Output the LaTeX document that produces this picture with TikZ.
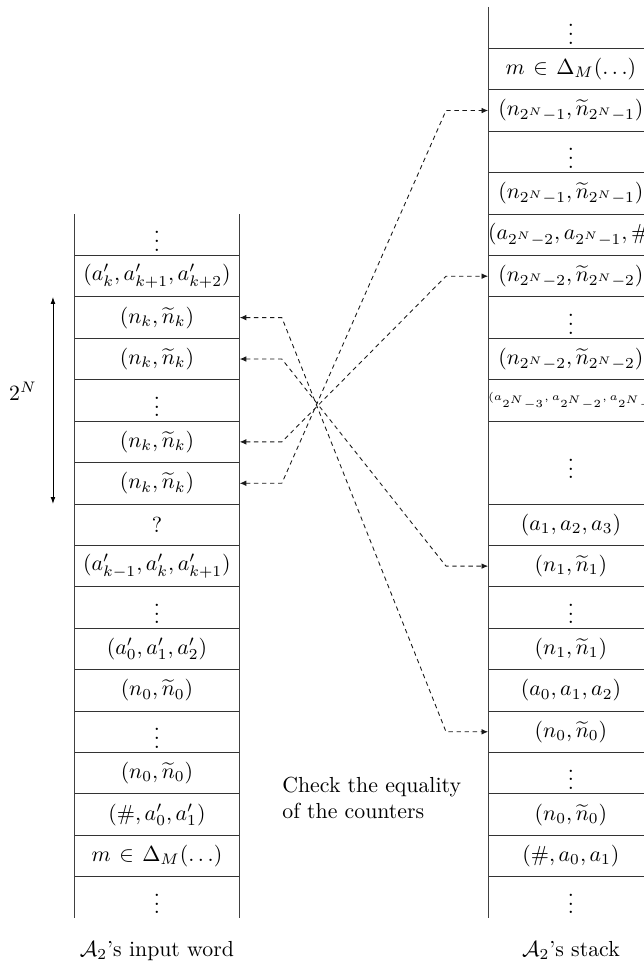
\documentclass[tikz,border=0pt]{standalone}
\usetikzlibrary{positioning}
\usetikzlibrary{arrows.meta}
\tikzset{
  % One square of a tape or stack: fixed size, text centred
  cell/.style={
    draw=black!80, rectangle, inner sep=0pt, outer sep=0pt,
    minimum width=76pt, minimum height=19pt, text width=76pt, align=center},
  % The open ends (only the side lines are drawn)
  opencell/.style={cell, draw=none},
  % Comparisons between counters
  link/.style={{Latex[length=3pt,width=2.6pt]}-{Latex[length=3pt,width=2.6pt]},
    draw=black!90, dash pattern=on 2pt off 1.7pt},
  span/.style={{Latex[length=3.2pt,width=2.2pt]}-{Latex[length=3.2pt,width=2.2pt]}, draw=black},
  side/.style={draw=black!75},
}

\begin{document}
\begin{tikzpicture}[node distance=0pt]

  \path[use as bounding box, clip] (0,0) rectangle (295.4pt,-443.6pt);

  % --- Input word --------------------------------------------------------
  \node[opencell, anchor=north] (l0) at (72pt,-98.2pt) {$\vdots$};
  \node[cell, below=of l0]  (l1)  {$(a'_k,a'_{k+1},a'_{k+2})$};
  \node[cell, below=of l1]  (l2)  {$(n_k,\widetilde{n}_k)$};
  \node[cell, below=of l2]  (l3)  {$(n_k,\widetilde{n}_k)$};
  \node[cell, below=of l3]  (l4)  {$\vdots$};
  \node[cell, below=of l4]  (l5)  {$(n_k,\widetilde{n}_k)$};
  \node[cell, below=of l5]  (l6)  {$(n_k,\widetilde{n}_k)$};
  \node[cell, below=of l6]  (l7)  {?};
  \node[cell, below=of l7]  (l8)  {$(a'_{k-1},a'_k,a'_{k+1})$};
  \node[cell, below=of l8]  (l9)  {$\vdots$};
  \node[cell, below=of l9]  (l10) {$(a'_0,a'_1,a'_2)$};
  \node[cell, below=of l10] (l11) {$(n_0,\widetilde{n}_0)$};
  \node[cell, below=of l11] (l12) {$\vdots$};
  \node[cell, below=of l12] (l13) {$(n_0,\widetilde{n}_0)$};
  \node[cell, below=of l13] (l14) {$(\#,a'_0,a'_1)$};
  \node[cell, below=of l14] (l15) {$m\in\Delta_M(\dots)$};
  \node[opencell, below=of l15] (l16) {$\vdots$};

  \draw[side] (l0.north west) -- (l16.south west);
  \draw[side] (l0.north east) -- (l16.south east);

  % --- Stack -------------------------------------------------------------
  \node[opencell, anchor=north] (r0) at (261.9pt,-3.2pt) {$\vdots$};
  \node[cell, below=of r0]  (r1)  {$m\in\Delta_M(\dots)$};
  \node[cell, below=of r1]  (r2)  {$(n_{2^N-1},\widetilde{n}_{2^N-1})$};
  \node[cell, below=of r2]  (r3)  {$\vdots$};
  \node[cell, below=of r3]  (r4)  {$(n_{2^N-1},\widetilde{n}_{2^N-1})$};
  \node[cell, below=of r4]  (r5)  {$(a_{2^N-2},a_{2^N-1},\#)$};
  \node[cell, below=of r5]  (r6)  {$(n_{2^N-2},\widetilde{n}_{2^N-2})$};
  \node[cell, below=of r6]  (r7)  {$\vdots$};
  \node[cell, below=of r7]  (r8)  {$(n_{2^N-2},\widetilde{n}_{2^N-2})$};
  \node[cell, below=of r8]  (r9)  {\tiny$(a_{2^N-3},a_{2^N-2},a_{2^N-1})$};
  \node[cell, below=of r9, minimum height=38pt] (r10) {$\vdots$};
  \node[cell, below=of r10] (r11) {$(a_1,a_2,a_3)$};
  \node[cell, below=of r11] (r12) {$(n_1,\widetilde{n}_1)$};
  \node[cell, below=of r12] (r13) {$\vdots$};
  \node[cell, below=of r13] (r14) {$(n_1,\widetilde{n}_1)$};
  \node[cell, below=of r14] (r15) {$(a_0,a_1,a_2)$};
  \node[cell, below=of r15] (r16) {$(n_0,\widetilde{n}_0)$};
  \node[cell, below=of r16] (r17) {$\vdots$};
  \node[cell, below=of r17] (r18) {$(n_0,\widetilde{n}_0)$};
  \node[cell, below=of r18] (r19) {$(\#,a_0,a_1)$};
  \node[opencell, below=of r19] (r20) {$\vdots$};

  \draw[side] (r0.north west) -- (r20.south west);
  \draw[side] (r0.north east) -- (r20.south east);

  % --- Captions ----------------------------------------------------------
  \node[below=7pt of l16] (inword) {$\mathcal{A}_2$'s input word};
  \node[below=7pt of r20] (stack)  {$\mathcal{A}_2$'s stack};
  \node[right=16pt of l14.north east, yshift=-2pt, align=left] (check)
       {Check the equality\\of the counters};

  % --- Block of 2^N counters ---------------------------------------------
  \draw[span] ([xshift=-9.7pt]l2.north west) -- ([xshift=-9.7pt]l6.south west)
       node[midway, left=4pt, yshift=4pt] (twoN) {$2^N$};

  % --- Counter comparisons -----------------------------------------------
  \draw[link] (l2.east) -- ++(19.3pt,0) -- ([xshift=-19.3pt]r16.west) -- (r16.west);
  \draw[link] (l3.east) -- ++(19.3pt,0) -- ([xshift=-19.3pt]r12.west) -- (r12.west);
  \draw[link] (l5.east) -- ++(19.3pt,0) -- ([xshift=-19.3pt]r6.west) -- (r6.west);
  \draw[link] (l6.east) -- ++(19.3pt,0) -- ([xshift=-19.3pt]r2.west) -- (r2.west);

\end{tikzpicture}
\end{document}
